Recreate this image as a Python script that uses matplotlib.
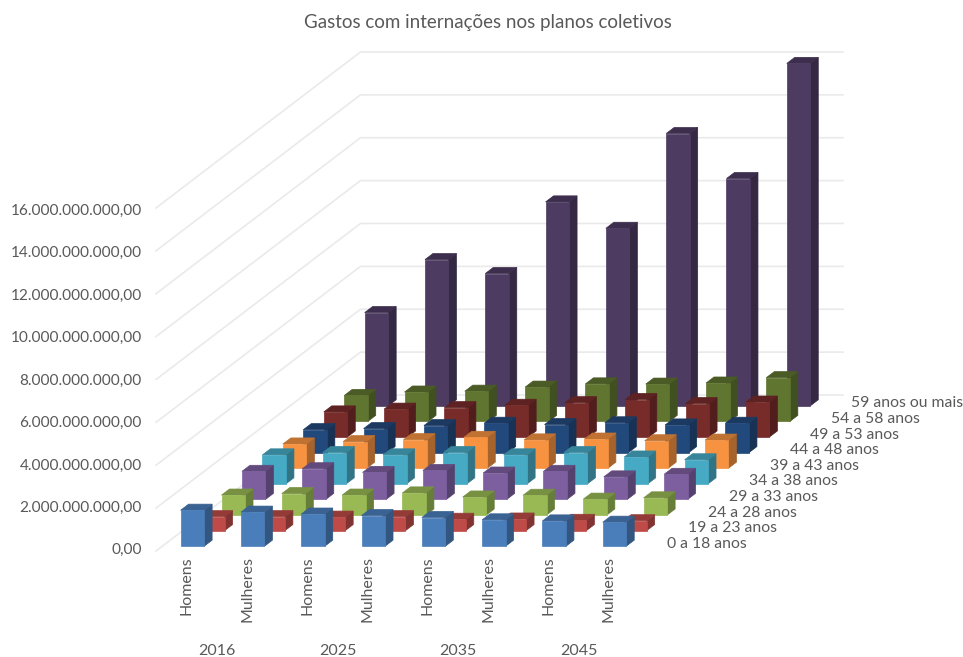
import numpy as np
import matplotlib
matplotlib.use('Agg')
import matplotlib.pyplot as plt
from matplotlib.colors import to_rgb

# gastos em bilhoes de reais, uma lista por faixa etaria
grupos = ['Homens', 'Mulheres'] * 4
anos = ['2016', '2025', '2035', '2045']
faixas = ['0 a 18 anos', '19 a 23 anos', '24 a 28 anos', '29 a 33 anos', '34 a 38 anos',
          '39 a 43 anos', '44 a 48 anos', '49 a 53 anos', '54 a 58 anos', '59 anos ou mais']

f_0_18 = [1.68, 1.59, 1.50, 1.43, 1.34, 1.23, 1.18, 1.12]
f_19_23 = [0.65, 0.65, 0.63, 0.65, 0.53, 0.54, 0.48, 0.46]
f_24_28 = [0.93, 1.00, 0.93, 1.03, 0.84, 0.92, 0.74, 0.80]
f_29_33 = [1.31, 1.43, 1.26, 1.35, 1.23, 1.31, 1.05, 1.17]
f_34_38 = [1.35, 1.46, 1.35, 1.46, 1.35, 1.46, 1.25, 1.12]
f_39_43 = [1.13, 1.24, 1.33, 1.44, 1.32, 1.36, 1.28, 1.31]
f_44_48 = [1.07, 1.12, 1.26, 1.37, 1.31, 1.39, 1.29, 1.37]
f_49_53 = [1.17, 1.30, 1.37, 1.48, 1.60, 1.75, 1.56, 1.63]
f_54_58 = [1.21, 1.37, 1.41, 1.60, 1.75, 1.74, 1.79, 2.04]
f_59 = [4.35, 6.82, 6.17, 9.51, 8.28, 12.70, 10.60, 15.97]
series = [f_0_18, f_19_23, f_24_28, f_29_33, f_34_38, f_39_43, f_44_48, f_49_53, f_54_58, f_59]

cores = ['#4A7EBB', '#BE4B48', '#98B954', '#7D5FA0', '#46AAC5',
         '#F69240', '#22497C', '#772C2A', '#5F7530', '#4D3B62']
ticks = [0, 2, 4, 6, 8, 10, 12, 14, 16]

texto = '#595959'
grade = '#EAEAEA'
plt.rcParams['font.family'] = ['Lato', 'DejaVu Sans']

W, H = 963, 657
fig = plt.figure(figsize=(W / 100, H / 100), dpi=100)
ax = fig.add_axes([0, 0, 1, 1])

# x em categorias, y em bilhoes
px_cat = 60.3
px_val = 21.44
x0, y0 = 156, 551
ax.set_xlim(-x0 / px_cat, (W - x0) / px_cat)
ax.set_ylim((y0 - H) / px_val, y0 / px_val)
ax.axis('off')

# cada fileira em profundidade desloca o desenho para cima e para a direita
kx = 20.45 / px_cat
ky = 15.6 / px_val


def proj(c, r, v):
    return c + kx * r, v + ky * r


def escurece(cor, f):
    return tuple(p * f for p in to_rgb(cor))


def face(pontos, cor):
    ax.fill(*zip(*pontos), facecolor=cor, edgecolor=cor, lw=0.5, zorder=3)


def barra(c, r, v, cor):
    w = 0.39
    a, b = c + (1 - w) / 2, c + (1 + w) / 2
    f, t = r + 0.305, r + 0.695
    face([proj(b, f, 0), proj(b, t, 0), proj(b, t, v), proj(b, f, v)], escurece(cor, 0.68))
    face([proj(a, f, v), proj(b, f, v), proj(b, t, v), proj(a, t, v)], escurece(cor, 0.78))
    face([proj(a, f, 0), proj(b, f, 0), proj(b, f, v), proj(a, f, v)], cor)


# paredes
n_cat = len(grupos)
n_fx = len(faixas)
for t in ticks:
    xs, ys = zip(proj(0, 0, t), proj(0, n_fx, t), proj(n_cat, n_fx, t))
    ax.plot(xs, ys, color=grade, lw=1.2, zorder=1)

# do fundo para a frente
for r in range(n_fx - 1, -1, -1):
    for c in range(n_cat):
        barra(c, r, series[r][c], cores[r])

for t in ticks:
    rot = f'{t * 1e9:,.2f}'.replace(',', '#').replace('.', ',').replace('#', '.')
    ax.text(-0.233, t * 0.99 + 0.03, rot, ha='right', va='center', color=texto, fontsize=11.05)

for c, g in enumerate(grupos):
    ax.text(c + 0.51, -0.24, g, rotation=90, ha='center', va='top', color=texto, fontsize=11.5)

for i, a in enumerate(anos):
    ax.text(2 * i + 1.01, -4.68, a, ha='center', va='center', color=texto, fontsize=11.5)

for r, fx in enumerate(faixas):
    xf, yf = proj(n_cat + 0.31, r + 0.5, 0)
    ax.text(xf, yf - 0.03, fx, ha='left', va='center', color=texto, fontsize=11.3)

ax.text(488 / px_cat - x0 / px_cat, (y0 - 22) / px_val, 'Gastos com internações nos planos coletivos',
        ha='center', va='center', color=texto, fontsize=13.5)

fig.savefig('out.png', dpi=100)
